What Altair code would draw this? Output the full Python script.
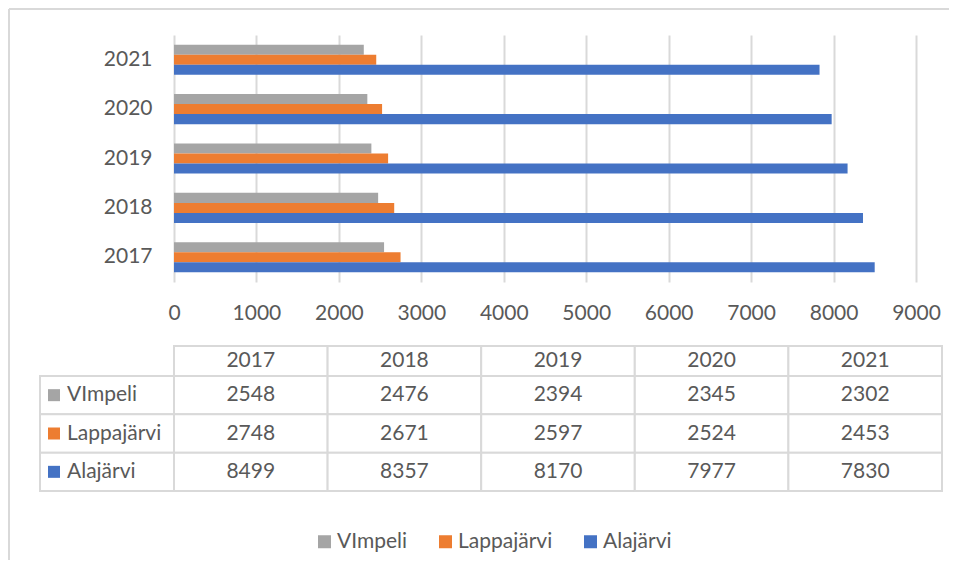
import altair as alt
import pandas as pd

years = ["2017", "2018", "2019", "2020", "2021"]
series = ["VImpeli", "Lappajärvi", "Alajärvi"]
vimpeli = [2548, 2476, 2394, 2345, 2302]
lappajarvi = [2748, 2671, 2597, 2524, 2453]
alajarvi = [8499, 8357, 8170, 7977, 7830]
colors = ["#A5A5A5", "#ED7D31", "#4472C4"]
x_ticks = [0, 1000, 2000, 3000, 4000, 5000, 6000, 7000, 8000, 9000]

rows = []
for s, vals in zip(series, [vimpeli, lappajarvi, alajarvi]):
    for y, v in zip(years, vals):
        rows.append({"series": s, "year": y, "value": v})
df = pd.DataFrame(rows)
df_years = pd.DataFrame({"year": years})
df_series = pd.DataFrame({"series": series})

FONT = "Lato"
FS = 21
TXT = "#595959"
GRID = "#D9D9D9"
W_BAR = 742
H_BAR = 247
W_TAB = 768
H_TAB = 115

color_scale = alt.Scale(domain=series, range=colors)

bars = alt.Chart(df).mark_bar().encode(
    x=alt.X("value:Q", scale=alt.Scale(domain=[0, 9000], nice=False),
            axis=alt.Axis(values=x_ticks, format="d", grid=True, gridColor=GRID, gridWidth=2,
                          ticks=False, domain=False, labelFont=FONT, labelFontSize=FS,
                          labelColor=TXT, labelPadding=20, labelFlush=False,
                          labelOverlap=False, title=None)),
    y=alt.Y("year:O", sort="descending",
            scale=alt.Scale(paddingInner=0.39, paddingOuter=0.195),
            axis=alt.Axis(title=None, domain=False, ticks=False, labelFont=FONT,
                          labelFontSize=FS, labelColor=TXT, labelPadding=22)),
    yOffset=alt.YOffset("series:N", sort=series,
                        scale=alt.Scale(paddingInner=0, paddingOuter=0)),
    color=alt.Color("series:N", scale=color_scale, sort=series,
                    legend=alt.Legend(title=None, orient="none", direction="horizontal",
                                      legendX=140, legendY=496,
                                      symbolType="square", symbolSize=169,
                                      symbolStrokeWidth=0, labelFont=FONT,
                                      labelFontSize=FS, labelColor=TXT,
                                      labelOffset=2, columnPadding=27)),
)

frame_left = alt.Chart(df_years.head(1)).mark_rule(color=GRID, strokeWidth=2).encode(
    x=alt.value(-165), y=alt.value(-26), y2=alt.value(525))
frame_top = alt.Chart(df_years.head(1)).mark_rule(color=GRID, strokeWidth=2).encode(
    x=alt.value(-165), x2=alt.value(775), y=alt.value(-26))

bar_chart = alt.layer(frame_left, frame_top, bars).properties(width=W_BAR, height=H_BAR)

xband = alt.Scale(paddingInner=0, paddingOuter=0)
yband = alt.Scale(domain=series, paddingInner=0, paddingOuter=0)

cells = alt.Chart(df).mark_rect(fill="white", stroke=GRID, strokeWidth=2).encode(
    x=alt.X("year:O", scale=xband, axis=None),
    y=alt.Y("series:N", scale=yband, axis=None),
)
cell_text = alt.Chart(df).mark_text(font=FONT, fontSize=FS, color=TXT).encode(
    x=alt.X("year:O", scale=xband, axis=None),
    y=alt.Y("series:N", scale=yband, axis=None),
    text=alt.Text("value:Q", format="d"),
)
head_cells = alt.Chart(df_years).mark_rect(fill="white", stroke=GRID, strokeWidth=2).encode(
    x=alt.X("year:O", scale=xband, axis=None),
    y=alt.value(-30), y2=alt.value(0),
)
head_text = alt.Chart(df_years).mark_text(font=FONT, fontSize=FS, color=TXT).encode(
    x=alt.X("year:O", scale=xband, axis=None),
    y=alt.value(-15),
    text="year:N",
)
label_cells = alt.Chart(df_series).mark_rect(fill="white", stroke=GRID, strokeWidth=2).encode(
    x=alt.value(-134), x2=alt.value(0),
    y=alt.Y("series:N", scale=yband, axis=None),
)
label_sq = alt.Chart(df_series).mark_square(size=144, opacity=1).encode(
    x=alt.value(-120),
    y=alt.Y("series:N", scale=yband, axis=None),
    color=alt.Color("series:N", scale=color_scale, legend=None),
)
label_text = alt.Chart(df_series).mark_text(font=FONT, fontSize=FS, color=TXT, align="left").encode(
    x=alt.value(-107),
    y=alt.Y("series:N", scale=yband, axis=None),
    text="series:N",
)

table = alt.layer(head_cells, head_text, label_cells, cells, cell_text, label_sq, label_text).properties(
    width=W_TAB, height=H_TAB)

chart = alt.vconcat(bar_chart, table, spacing=94, bounds="flush").configure_view(
    stroke=None).properties(padding=0)

chart.save("out.html", embed_options={"renderer": "svg", "actions": False})
